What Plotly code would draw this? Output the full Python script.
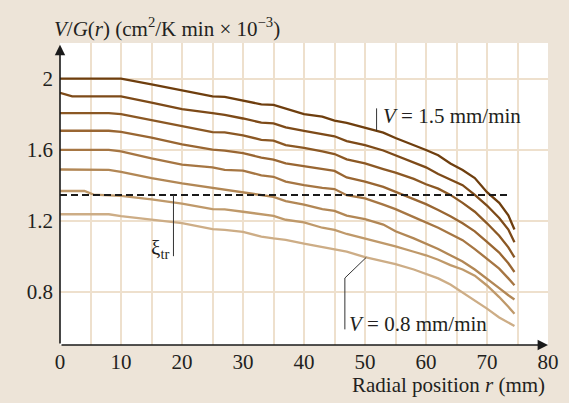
import plotly.graph_objects as go

# ---- data ----
radial_mm = [0, 2, 4, 5.5, 8, 10, 15, 20, 25, 27, 30, 33, 35, 37, 40, 43, 45, 47, 50,
             53, 55, 58, 60, 62, 64, 66, 68, 70, 72, 73.5, 74.5]

vg_v15 = [2.00, 2.00, 2.00, 2.00, 2.00, 2.00, 1.967, 1.935, 1.90, 1.897, 1.878, 1.855, 1.852, 1.832, 1.80,
          1.786, 1.763, 1.750, 1.722, 1.695, 1.665, 1.627, 1.598, 1.568, 1.522, 1.485, 1.44, 1.36, 1.30, 1.23, 1.15]
vg_v14 = [1.92, 1.90, 1.90, 1.90, 1.90, 1.90, 1.865, 1.828, 1.805, 1.795, 1.775, 1.752, 1.748, 1.725, 1.705,
          1.688, 1.675, 1.648, 1.625, 1.595, 1.568, 1.528, 1.50, 1.463, 1.432, 1.40, 1.345, 1.285, 1.215, 1.15, 1.078]
vg_v13 = [1.805, 1.805, 1.805, 1.805, 1.805, 1.80, 1.765, 1.732, 1.698, 1.697, 1.68, 1.655, 1.65, 1.625, 1.61,
          1.59, 1.575, 1.545, 1.522, 1.49, 1.47, 1.435, 1.405, 1.38, 1.345, 1.30, 1.25, 1.185, 1.115, 1.05, 0.993]
vg_v12 = [1.706, 1.706, 1.706, 1.706, 1.706, 1.70, 1.668, 1.63, 1.60, 1.594, 1.58, 1.555, 1.544, 1.522, 1.505,
          1.49, 1.48, 1.443, 1.42, 1.39, 1.362, 1.32, 1.293, 1.26, 1.225, 1.185, 1.14, 1.08, 1.02, 0.96, 0.911]
vg_v11 = [1.598, 1.598, 1.598, 1.598, 1.598, 1.59, 1.55, 1.515, 1.50, 1.486, 1.482, 1.455, 1.447, 1.42, 1.40,
          1.385, 1.378, 1.343, 1.325, 1.29, 1.265, 1.22, 1.19, 1.16, 1.125, 1.09, 1.04, 0.985, 0.93, 0.875, 0.836]
vg_v10 = [1.488, 1.488, 1.488, 1.488, 1.486, 1.475, 1.44, 1.41, 1.385, 1.376, 1.36, 1.343, 1.334, 1.31, 1.29,
          1.265, 1.255, 1.228, 1.208, 1.178, 1.14, 1.10, 1.07, 1.04, 1.005, 0.97, 0.925, 0.875, 0.82, 0.78, 0.756]
vg_v09 = [1.367, 1.367, 1.367, 1.347, 1.345, 1.34, 1.32, 1.296, 1.265, 1.263, 1.25, 1.238, 1.227, 1.205, 1.19,
          1.16, 1.148, 1.125, 1.10, 1.072, 1.055, 1.025, 1.005, 0.98, 0.95, 0.925, 0.89, 0.835, 0.77, 0.715, 0.676]
vg_v08 = [1.236, 1.236, 1.236, 1.236, 1.236, 1.225, 1.205, 1.186, 1.152, 1.148, 1.137, 1.11, 1.10, 1.092, 1.07,
          1.05, 1.04, 1.025, 0.995, 0.97, 0.955, 0.925, 0.90, 0.875, 0.84, 0.795, 0.75, 0.705, 0.655, 0.625, 0.607]

series = [vg_v15, vg_v14, vg_v13, vg_v12, vg_v11, vg_v10, vg_v09, vg_v08]
series_names = ["V = 1.5 mm/min", "V = 1.4 mm/min", "V = 1.3 mm/min", "V = 1.2 mm/min",
                "V = 1.1 mm/min", "V = 1.0 mm/min", "V = 0.9 mm/min", "V = 0.8 mm/min"]
series_colors = ["#6e3e0e", "#7d4a18", "#8b5824", "#996632", "#a67643", "#b28755", "#bf996a", "#cdad86"]

xi_tr = 1.345
xi_tr_x = [0, 73.7]

x_ticks = [0, 10, 20, 30, 40, 50, 60, 70, 80]
y_ticks = [0.8, 1.2, 1.6, 2.0]
y_tick_labels = ["0.8", "1.2", "1.6", "2"]

# ---- styling ----
FONT = "Liberation Serif"
FS = 21
TXT = "#231f20"
GRID = "#eee0cd"
BG = "#ede4d8"

fig = go.Figure()

for ys, name, col in zip(series, series_names, series_colors):
    fig.add_trace(go.Scatter(x=radial_mm, y=ys, mode="lines", name=name,
                             line=dict(color=col, width=2.3), showlegend=False))

fig.add_trace(go.Scatter(x=xi_tr_x, y=[xi_tr, xi_tr], mode="lines", showlegend=False,
                         line=dict(color="#1a1a1a", width=2, dash="7px,4px")))

fig.update_layout(
    width=569, height=403,
    margin=dict(l=60, r=21, t=43, b=58),
    paper_bgcolor=BG, plot_bgcolor="white",
    font=dict(family=FONT, size=FS, color=TXT),
    xaxis=dict(range=[0, 80], tickvals=x_ticks, showgrid=True, gridcolor=GRID, gridwidth=1.5,
               minor=dict(dtick=5, showgrid=True, gridcolor=GRID, gridwidth=1.5),
               zeroline=False, showline=False, ticks="", ticklabelstandoff=2,
               automargin=False, tickfont=dict(family=FONT, size=FS, color=TXT)),
    yaxis=dict(range=[0.5, 2.2], tickvals=y_ticks, ticktext=y_tick_labels, showgrid=True,
               gridcolor=GRID, gridwidth=1.5, zeroline=False, showline=False, ticks="",
               ticklabelstandoff=6, automargin=False,
               tickfont=dict(family=FONT, size=FS, color=TXT)),
)

# axes with arrows
fig.add_annotation(x=80, y=0.5, ax=0, ay=0.5, xref="x", yref="y", axref="x", ayref="y",
                   text="", showarrow=True, arrowhead=2, arrowsize=1.3, arrowwidth=1.6,
                   arrowcolor="#1a1a1a")
fig.add_annotation(x=0, y=2.19, ax=0, ay=0.5, xref="x", yref="y", axref="x", ayref="y",
                   text="", showarrow=True, arrowhead=2, arrowsize=1.3, arrowwidth=1.6,
                   arrowcolor="#1a1a1a")

# axis titles
fig.add_annotation(x=-0.016, y=1.05, xref="paper", yref="paper", xanchor="left", yanchor="middle",
                   showarrow=False,
                   text="<i>V</i>/<i>G</i>(<i>r</i>) (cm<sup>2</sup>/K min × 10<sup>−3</sup>)",
                   font=dict(family=FONT, size=FS, color=TXT))
fig.add_annotation(x=0.998, y=-0.134, xref="paper", yref="paper", xanchor="right", yanchor="middle",
                   showarrow=False, text="Radial position <i>r</i> (mm)",
                   font=dict(family=FONT, size=FS, color=TXT))

# labels with leader lines
LEAD = "#333333"
fig.add_shape(type="line", x0=51.9, x1=51.9, y0=1.832, y1=1.706, xref="x", yref="y",
              line=dict(color=LEAD, width=1))
fig.add_annotation(x=52.6, y=1.79, xref="x", yref="y", xanchor="left", yanchor="middle",
                   showarrow=False, text="<i>V</i> = 1.5 mm/min",
                   font=dict(family=FONT, size=FS, color=TXT))

fig.add_shape(type="path", path="M 50.2,0.993 L 46.7,0.877 L 46.7,0.588", xref="x", yref="y",
              line=dict(color=LEAD, width=1))
fig.add_annotation(x=47.0, y=0.62, xref="x", yref="y", xanchor="left", yanchor="middle",
                   showarrow=False, text="<i>V</i> = 0.8 mm/min",
                   font=dict(family=FONT, size=FS, color=TXT))

fig.add_shape(type="line", x0=18.6, x1=18.6, y0=xi_tr, y1=1.0, xref="x", yref="y",
              line=dict(color=LEAD, width=1))
fig.add_annotation(x=18.2, y=1.04, xref="x", yref="y", xanchor="right", yanchor="middle",
                   showarrow=False, text="ξ<sub>tr</sub>",
                   font=dict(family=FONT, size=FS, color=TXT))

fig.write_html("out.html", config={"displayModeBar": False},
               post_script="document.body.style.margin='0';")
